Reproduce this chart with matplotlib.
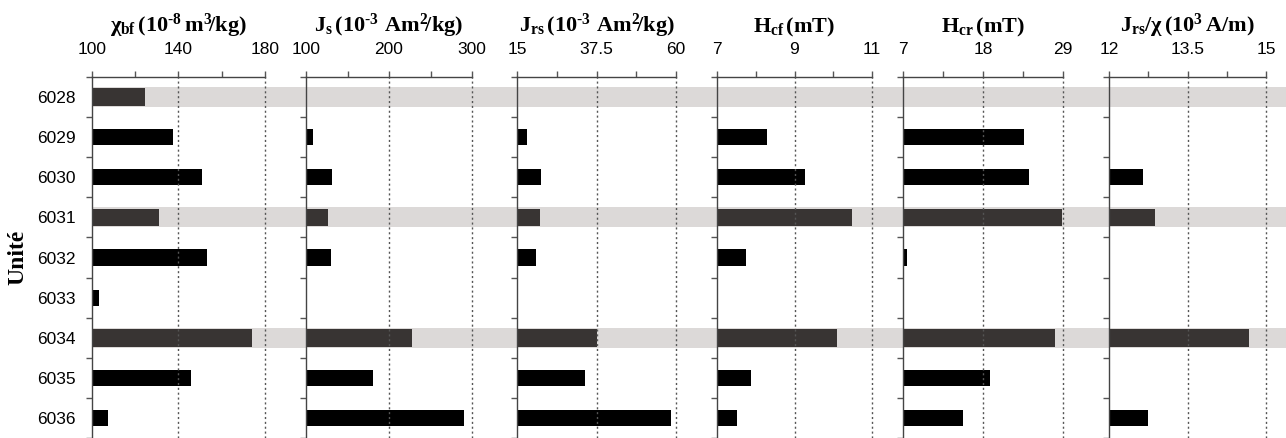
import numpy as np
import matplotlib
matplotlib.use('Agg')
import matplotlib.pyplot as plt

plt.rcParams['font.family'] = ['Liberation Sans', 'DejaVu Sans']
plt.rcParams['mathtext.fontset'] = 'custom'
plt.rcParams['mathtext.rm'] = 'Liberation Serif:bold'
plt.rcParams['mathtext.it'] = 'Liberation Serif:bold'
plt.rcParams['mathtext.bf'] = 'Liberation Serif:bold'

units = ['6028', '6029', '6030', '6031', '6032', '6033', '6034', '6035', '6036']
highlight = ['6028', '6031', '6034']
nan = np.nan

chi_bf = [124.5, 137.5, 150.7, 131.1, 153.2, 103.1, 174.1, 145.6, 107.5]
js = [nan, 108, 131, 126.5, 130, nan, 227.7, 180.7, 290]
jrs = [nan, 17.8, 21.8, 21.5, 20.4, nan, 37.6, 34.2, 58.6]
hcf = [nan, 8.29, 9.27, 10.48, 7.75, nan, 10.1, 7.88, 7.52]
hcr = [nan, 23.6, 24.3, 28.8, 7.6, nan, 27.9, 18.9, 15.2]
jrs_chi = [nan, nan, 12.65, 12.885, nan, nan, 14.68, nan, 12.75]

titles = [r'$\chi_{bf}\,(10^{\text{-}8}\,m^3\!/kg)$',
          r'$J_s\,(10^{\text{-}3}\ Am^2\!/kg)$',
          r'$J_{rs}\,(10^{\text{-}3}\ Am^2\!/kg)$',
          r'$H_{cf}\,(mT)$',
          r'$H_{cr}\,(mT)$',
          r'$J_{rs}/\chi\,(10^3\,A/m)$']
series = [chi_bf, js, jrs, hcf, hcr, jrs_chi]
xticks = [[100, 140, 180], [100, 200, 300], [15, 37.5, 60],
          [7, 9, 11], [7, 18, 29], [12, 13.5, 15]]
xticklabels = [['100', '140', '180'], ['100', '200', '300'], ['15', '37.5', '60'],
               ['7', '9', '11'], ['7', '18', '29'], ['12', '13.5', '15']]

W, H = 1286, 438
lefts = [92, 306, 517, 717, 903, 1109]
rights = [265, 472, 676, 872, 1063, 1266]
top_px = 77

fig = plt.figure(figsize=(W / 100, H / 100), dpi=100)
y = np.arange(len(units))
hl = np.array([u in highlight for u in units])

axes = []
for i in range(6):
    ax = fig.add_axes([lefts[i] / W, 0, (rights[i] - lefts[i]) / W, (H - top_px) / H])
    ax.patch.set_visible(False)
    vals = np.array(series[i], dtype=float)
    ax.set_xlim(xticks[i][0], xticks[i][-1])
    ax.set_ylim(len(units) - 0.5, -0.5)
    left = xticks[i][0]
    ax.barh(y[~hl], vals[~hl] - left, left=left, height=0.4, color='black', zorder=2)
    ax.barh(y[hl], vals[hl] - left, left=left, height=0.44, color='#383433', zorder=2)
    for xv in xticks[i][1:]:
        ax.axvline(xv, color='#555555', linestyle=(0, (1.5, 2)), linewidth=1,
                   zorder=3, clip_on=False)
    ax.xaxis.tick_top()
    ax.set_xticks(xticks[i])
    ax.set_xticklabels(xticklabels[i], fontsize=12.5)
    mids = [(xticks[i][0] + xticks[i][1]) / 2, (xticks[i][1] + xticks[i][2]) / 2]
    ax.set_xticks(mids, minor=True)
    ax.tick_params(axis='x', which='both', direction='out', length=4.5, width=1,
                   color='#555555', pad=10)
    ax.set_yticks(y)
    ax.set_yticks(np.arange(len(units) + 1) - 0.5, minor=True)
    ax.tick_params(axis='y', which='major', length=0, pad=11.5)
    ax.tick_params(axis='y', which='minor', length=4, width=1, color='#555555')
    if i == 0:
        ax.set_yticklabels(units, fontsize=12.5)
    else:
        ax.set_yticklabels([])
    for s in ['right', 'bottom']:
        ax.spines[s].set_visible(False)
    for s in ['left', 'top']:
        ax.spines[s].set_color('#444444')
        ax.spines[s].set_linewidth(1)
    ax.text(0.5, (H - 32) / (H - top_px), titles[i], transform=ax.transAxes,
            ha='center', va='baseline', fontsize=16)
    axes.append(ax)

# gray bands across all panels
ax0 = axes[0]
span = (W - lefts[0]) / (rights[0] - lefts[0])
for yi in y[hl]:
    ax0.axhspan(yi - 0.25, yi + 0.25, xmin=0, xmax=span, color='#dcd9d8',
                zorder=0, clip_on=False, linewidth=0)

fig.text(18 / W, 1 - 257 / H, 'Unité', rotation=90, ha='center', va='center',
         fontsize=17, fontweight='bold', family='Liberation Serif')

fig.savefig('out.png', dpi=100)
